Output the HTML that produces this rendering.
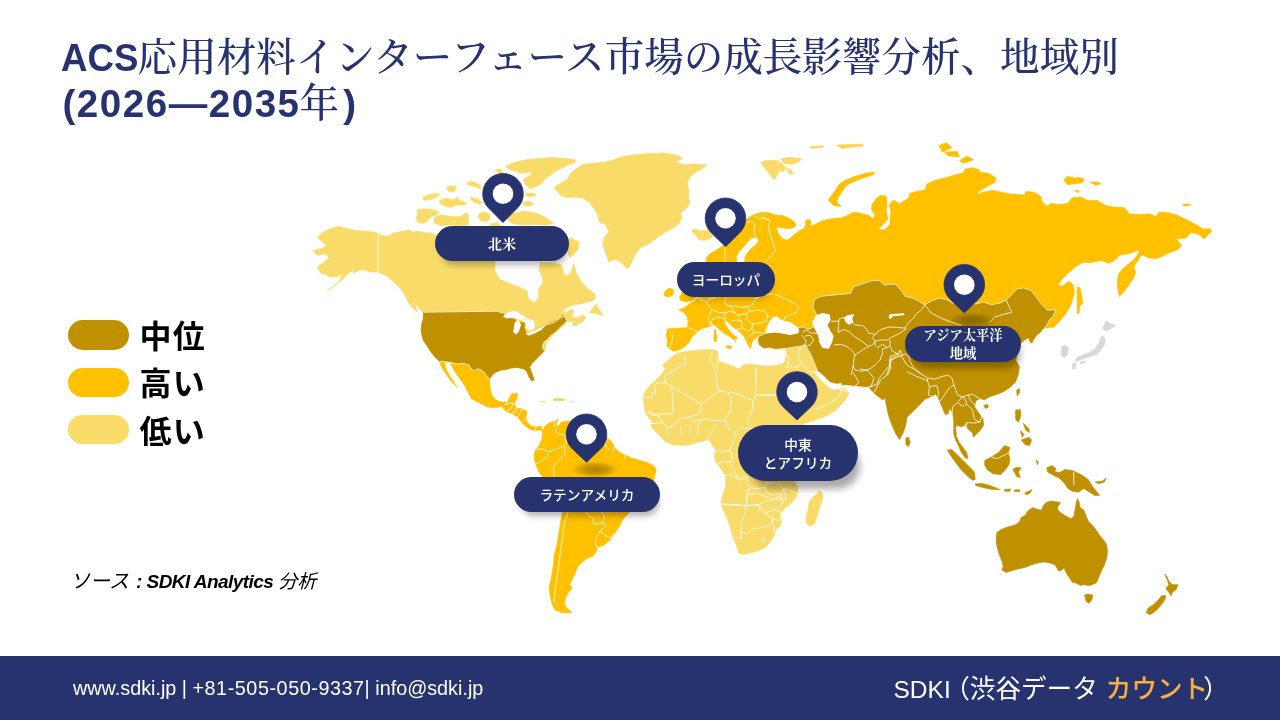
<!DOCTYPE html>
<html lang="ja"><head><meta charset="utf-8"><title>ACS応用材料インターフェース市場</title>
<style>
html,body{margin:0;padding:0;}
body{width:1280px;height:720px;overflow:hidden;background:#fff;position:relative;font-family:"Liberation Sans","Noto Sans CJK JP",sans-serif;}
.abs{position:absolute;white-space:nowrap;}
.title{left:62.5px;color:#27336F;font-family:"Liberation Sans","Noto Serif CJK JP","Noto Serif CJK SC",serif;font-size:39.55px;line-height:46px;font-weight:400;}
.title b{font-family:"Liberation Sans",sans-serif;font-weight:700;font-size:38.6px;display:inline-block;}
.title .cj{font-family:"Noto Serif CJK JP","Noto Serif CJK SC",serif;font-weight:500;}
.leg{left:68px;width:61px;height:30px;border-radius:15px;}
.legt{left:139.5px;font-family:"Noto Sans CJK JP",sans-serif;font-weight:700;font-size:32px;line-height:36px;color:#000;letter-spacing:1.2px;}
.src{left:70px;top:569px;font-size:20px;line-height:24px;font-style:italic;color:#000;font-family:"Liberation Sans","Noto Sans CJK JP",sans-serif;}
.src b{font-size:19px;letter-spacing:-0.55px;}
.footer{left:0;top:656px;width:1280px;height:64px;background:#27336F;}
.f1{left:73px;top:676px;color:#fff;font-size:19.8px;line-height:24px;}
.f2{left:893.5px;top:672px;color:#fff;font-size:24.5px;line-height:30px;}
.f2 .fj{font-size:25.6px;font-family:"Noto Sans CJK JP",sans-serif;}.f2 i{font-style:normal;}.f2 b{color:#F5B041;font-weight:500;}
.lab{background:#27336F;color:#fff;text-align:center;font-size:13px;line-height:17.5px;display:flex;align-items:center;justify-content:center;flex-direction:column;}
.lab.serif{font-family:"Noto Serif CJK JP","Noto Serif CJK SC",serif;font-weight:700;font-size:13.3px;}
.lab.sans{font-family:"Noto Sans CJK JP",sans-serif;font-weight:500;font-size:13.7px;}
</style></head><body>
<div class="abs title" id="t1" style="top:30.5px"><b id="acs" style="transform:scaleX(.95);transform-origin:0 50%;margin-right:-5.2px;margin-left:-1.2px">ACS</b><span class="cj" id="cj1">応用材料インターフェース市場の成長影響分析、地域別</span></div>
<div class="abs title" id="t2" style="top:76.5px"><b id="yr" style="letter-spacing:1.5px">(2026—2035</b><span class="cj" id="cj2" style="margin-left:-1px">年</span><b style="margin-left:4px">)</b></div>
<svg class="abs" style="left:0;top:0" width="1280" height="720" viewBox="0 0 1280 720">
<path d="M323.4,232 329.7,228.9 338.3,226.2 346.9,228.4 356.2,230.5 367.2,231.2 376.9,232.5 381.2,235.2 387.5,236.2 393.8,233.1 401.6,231.2 409.4,230 412.5,232 418.8,231.2 425,232.8 431.2,233.1 435.9,235.2 470,236 540,238 540.2,262.7 553.4,262.7 561.2,265 565.2,275.9 570.6,273.6 573.8,263.4 576.9,274.4 581.6,282.2 587.8,288.4 594.8,293.9 595.6,297.8 592.5,300.9 586.2,302.5 580,304.1 573.8,304.8 567.5,307.2 562.8,311.1 564.4,313.4 570.6,309.5 573.8,310.3 572.2,316.6 576.9,318.1 583.1,315 586.2,317.3 583.1,321.2 575.3,325.9 572.2,325.2 573.8,321.2 569.1,322 566.7,321.2 564.4,324.4 558.1,330.6 553.4,333.8 548.8,340 544.1,343.1 542.5,347.8 544.8,352 546.9,339.1 543,342.2 541.4,346.9 543.8,351.6 539.8,355.5 535.9,359.4 532,363.3 529.7,367.2 532,373.4 534.1,379.7 532,381.2 528.9,376.6 526.6,371.1 523.4,368.8 517.2,367.5 510.9,368 506.2,369.5 500,370.3 493.8,373.4 490.6,377.3 489.4,379.7 487.5,376.6 484.4,372.7 481.2,370 477.3,368.8 475,371.1 471.1,368.8 468.8,364.8 462.5,363.3 457.8,364.1 450,362.5 442.2,361.2 439.8,361.7 437.5,359.4 433.6,355.5 429.7,350 426.6,345.3 423.4,340.6 421.9,335.2 421.1,329.7 421.9,323.4 423.4,318 423.4,313.3 420.3,309.4 417.2,306.2 414.8,302.3 417.2,312 412.5,307.8 407.8,301.6 404.7,295.3 401.6,289.8 396.9,285.2 392.2,280.5 387.5,276.6 381.2,273.4 376.9,271.9 373.4,272.2 367.2,271.1 361.7,269.5 357.8,271.1 353.1,273.4 353.9,268.8 348.4,273.4 343,278.9 335.9,285.2 326.6,290.6 333.6,286.7 339.1,281.2 342.2,274.7 337.5,276.6 331.2,277.3 326.6,275 320.3,272.7 317.2,267.2 323.4,262.5 328.9,258.6 326.6,253.9 317.2,255.5 313.3,250.8 321.9,248.4 326.6,245.3 321.1,240.9 317.2,237.5Z" fill="#F8DB69" stroke="#F8DB69" stroke-width="0.6" stroke-linejoin="round"/>
<path d="M589.4,312.7 595.6,304.1 598.8,308.8 603.4,315.8 595.6,313.4Z" fill="#F8DB69" stroke="#F8DB69" stroke-width="0.6" stroke-linejoin="round"/>
<path d="M423.4,312.2 496.9,311.2 503.1,313.3 506.2,317.2 515.6,319.5 514.8,323.4 513.3,332 516.4,333.6 518.8,326.6 520.3,321.9 525,323.4 524.2,328.1 526.6,333.6 532.8,332 537.5,328.9 545.3,325 553.1,321.9 559.4,318.8 562.5,315.6 565.6,317.2 566.4,321.9 562.5,324.2 557.8,328.9 553.9,332.8 550,335.2 546.9,339.1 543,342.2 541.4,346.9 543.8,351.6 539.8,355.5 535.9,359.4 532,363.3 529.7,367.2 532,373.4 534.1,379.7 532,381.2 528.9,376.6 526.6,371.1 523.4,368.8 517.2,367.5 510.9,368 506.2,369.5 500,370.3 493.8,373.4 490.6,377.3 489.4,379.7 487.5,376.6 484.4,372.7 481.2,370 477.3,368.8 475,371.1 471.1,368.8 468.8,364.8 462.5,363.3 457.8,364.1 450,362.5 442.2,361.2 439.8,361.7 437.5,359.4 433.6,355.5 429.7,350 426.6,345.3 423.4,340.6 421.9,335.2 421.1,329.7 421.9,323.4 423.4,318Z" fill="#BF9000" stroke="#BF9000" stroke-width="0.6" stroke-linejoin="round"/>
<path d="M503.4,316.6 508.1,312.2 515.9,311.1 520.9,314.7 526.9,318.1 520.6,319.7 512.8,317.3 506.6,318.1Z" fill="#fff" stroke="#fff" stroke-width="0.6" stroke-linejoin="round"/>
<path d="M513.6,332.2 514.7,323.6 518.3,320.5 520.9,324.4 518.3,332.2 515.6,334.1Z" fill="#fff" stroke="#fff" stroke-width="0.6" stroke-linejoin="round"/>
<path d="M521.9,320.5 528.4,318.9 533.9,321.2 534.7,327.5 530,330.6 525.6,327.5 526.4,323.1Z" fill="#fff" stroke="#fff" stroke-width="0.6" stroke-linejoin="round"/>
<path d="M526.1,333.8 533.1,331.4 539.4,328.3 545.6,325.2 541.2,329.8 533.1,333.8 528.4,335.3Z" fill="#fff" stroke="#fff" stroke-width="0.6" stroke-linejoin="round"/>
<path d="M495.6,258.8 495.6,271.2 500.3,279.1 509.7,283 520.6,286.9 527.7,290.8 529.2,298.6 533.9,302.2 537.8,298.6 538.1,288.4 542.5,283 541.7,276.7 538.6,270.5 540.2,258.8Z" fill="#fff" stroke="#fff" stroke-width="0.6" stroke-linejoin="round"/>
<path d="M450,362.5 457.8,364.1 462.5,363.3 468.8,364.8 471.1,368.8 475,371.1 477.3,368.8 481.2,370 484.4,372.7 487.5,376.6 489.4,379.7 489.8,384.4 490.6,390.6 492.2,396.1 496.1,400 501.6,402.3 507.8,401.6 509.4,397.7 511.7,393.8 517.2,393.4 516.4,397.7 514.1,402.3 513.3,406.2 517.5,393.8 516.7,398.8 514.4,403.4 515.9,408.1 522.2,408.9 526.9,411.2 526.1,417.5 526.9,422.2 531.6,426.1 536.2,426.9 540.9,426.1 542.5,430 542.5,432.3 540.2,430 534.7,430.8 530,429.2 525.3,426.1 521.4,422.2 517.5,416.7 511.2,413.6 505,410.5 501.9,406.6 494.1,407.8 486.2,406.6 480,402.7 492.2,407.8 484.4,404.7 476.6,401.6 471.1,398.4 468.8,393.8 465.6,387.5 461.7,381.2 457,375 453.1,368.8Z" fill="#FFC000" stroke="#FFC000" stroke-width="0.6" stroke-linejoin="round"/>
<path d="M440,361.2 444.8,362.5 445.5,367.5 447.5,372 450,376.2 453.1,380.8 455.6,385 457.8,387.8 455,385.2 451.2,381 447.5,376 444.4,371.5 441.2,366.5Z" fill="#FFC000" stroke="#FFC000" stroke-width="0.6" stroke-linejoin="round"/>
<path d="M553.1,399.1 558.1,398.4 564.7,399.4 564.1,400.8 558.1,400.3 553.8,400.5Z" fill="#FFCC33" stroke="#FFCC33" stroke-width="0.6" stroke-linejoin="round"/>
<path d="M540.2,401.1 545.6,401.1 545.6,401.9 540.2,401.9Z" fill="#FFE08A" stroke="#FFE08A" stroke-width="0.6" stroke-linejoin="round"/>
<path d="M570.3,401.1 574.1,401.1 574.1,401.9 570.3,401.9Z" fill="#FFE08A" stroke="#FFE08A" stroke-width="0.6" stroke-linejoin="round"/>
<path d="M542.5,432.3 544.1,426.9 548.8,423 555,420.9 558.1,419.1 556.6,423.8 558.1,426.9 561.2,422.2 567.5,420.9 576.9,423 589.4,426.9 598.8,432.3 606.6,437.8 611.2,440.9 614.4,447.2 619.1,451.9 625.3,455 631.6,458.1 637.8,459.7 645.6,462 651.9,464.4 655.8,468.3 656.2,472.2 654.2,476.1 654.4,493.8 645,501.3 630,511.6 622.5,520 618.8,527.5 614.1,534.1 609.4,540.6 603.8,545.3 597.2,547.2 596.3,551.9 592.5,556.6 586.9,558.4 582.2,562.2 577.5,566.9 575.6,572.5 572.8,578.1 570,583.8 571.9,588.4 568.1,593.1 565.3,598.8 564.4,604.4 568.1,609.1 571.9,612.8 562.5,612.8 555,610 552.2,604.4 550.3,596.9 549,587.5 551.3,578.1 553.1,566.9 554.1,555.6 556.9,544.4 558.8,533.1 560.6,521.9 562.5,511.6 542.5,476.9 540.2,473.8 537,467.5 534.7,461.2 533.9,455 535.5,449.5 539.4,445.6 541.7,439.4Z" fill="#FFC000" stroke="#FFC000" stroke-width="0.6" stroke-linejoin="round"/>
<path d="M554.1,187.5 560.3,183.6 568.1,178.9 569.7,174.2 575.9,168.8 582.2,164.8 591.6,163.3 602.5,162.5 610.3,160.9 621.2,157 633.8,154.7 649.4,153.4 665,153.1 675.9,154.7 683,158.6 675.9,161.7 683.8,164.8 693.1,164.1 707.2,164.8 702.5,168.8 694.7,172.7 690,177.3 686.9,183.6 689.2,190.6 688.4,196.9 690,203.1 685.3,209.4 680.6,212.5 682.2,218.8 677.5,225 672.8,228.1 665,232.8 657.2,237.5 649.4,243.8 641.6,246.9 636.9,251.6 633.8,257.8 631.4,263.3 629.1,267.2 627.5,269.1 625.2,266.4 621.2,262.5 615,259.4 608.8,262 605.6,253.1 602.5,243.8 604.1,237.5 608.8,231.2 605.6,225 599.4,221.9 597.8,215.6 594.7,209.4 590,203.1 583.8,198.4 575.9,196.9 566.6,197.7 560.3,195.3 557.2,191.4Z" fill="#F8DB69" stroke="#F8DB69" stroke-width="0.6" stroke-linejoin="round"/>
<path d="M691.9,230 696.2,228.8 700,231.2 705,230 710,231.2 713.1,235 711.2,238.1 706.2,240 701.2,240.6 697.5,238.1 695.6,234.4 692.5,232.5Z" fill="#F8DB69" stroke="#F8DB69" stroke-width="0.6" stroke-linejoin="round"/>
<path d="M505.2,166.4 513.8,162.5 526.2,159.7 541.9,158.1 554.4,157.5 566.9,158.6 576.2,160.2 573.9,163.3 566.9,165.6 560.6,168.8 554.4,171.9 549.7,175.8 545,178.9 541.9,183.6 535.6,186.7 529.4,189.1 527.8,186.7 524.7,183.6 523.1,179.7 527.8,176.6 532.5,173.4 529.4,171.9 521.6,173.4 515.3,171.1 509.1,169.5Z" fill="#F8DB69" stroke="#F8DB69" stroke-width="0.6" stroke-linejoin="round"/>
<path d="M416.9,210 423.8,208.8 431.9,209.4 439.4,211.9 436.2,215 430,217.5 427.5,221.2 422.5,223.8 417.5,221.9 416.2,217.5 418.1,213.8Z" fill="#F8DB69" stroke="#F8DB69" stroke-width="0.6" stroke-linejoin="round"/>
<path d="M434.4,217.5 441.2,215 450,216.2 460,216.9 465.6,213.1 468.8,214.4 468.1,220 468.8,225 460,225.6 450,225 441.2,225.6 435,223.8 433.8,220.6Z" fill="#F8DB69" stroke="#F8DB69" stroke-width="0.6" stroke-linejoin="round"/>
<path d="M423.1,196.9 430,194.4 438.1,193.1 439.4,195.6 432.5,198.8 426.2,200.6 423.1,199.4Z" fill="#F8DB69" stroke="#F8DB69" stroke-width="0.6" stroke-linejoin="round"/>
<path d="M439.4,200.6 446.2,198.1 453.8,200 456.9,196.9 460,200.6 466.2,202.5 465,205 457.5,205 450,207.5 445,206.2 440,203.8Z" fill="#F8DB69" stroke="#F8DB69" stroke-width="0.6" stroke-linejoin="round"/>
<path d="M446.2,187.5 452.5,185.6 456.9,187.5 453.8,191.9 448.8,191.9 447.5,189.4Z" fill="#F8DB69" stroke="#F8DB69" stroke-width="0.6" stroke-linejoin="round"/>
<path d="M466.9,182.5 472.5,181.2 480,185 481.9,188.8 477.5,188.1 471.2,185.6 467.5,185Z" fill="#F8DB69" stroke="#F8DB69" stroke-width="0.6" stroke-linejoin="round"/>
<path d="M470,196.9 477.5,198.8 482.5,202.5 480,204.4 475,202.5 471.2,200Z" fill="#F8DB69" stroke="#F8DB69" stroke-width="0.6" stroke-linejoin="round"/>
<path d="M479.4,213.1 485,211.9 490,215 489.4,220 484.4,221.9 480,220 478.1,216.2Z" fill="#F8DB69" stroke="#F8DB69" stroke-width="0.6" stroke-linejoin="round"/>
<path d="M508.8,214.4 516.2,212.5 525,211.2 533.8,212.5 541.2,215 547.5,218.8 553.8,223.8 547.5,225 535,224.4 522.5,225 512.5,223.8 507.5,220Z" fill="#F8DB69" stroke="#F8DB69" stroke-width="0.6" stroke-linejoin="round"/>
<path d="M522.5,202.5 530,201.2 533.1,203.8 530,206.2 523.8,205.6Z" fill="#F8DB69" stroke="#F8DB69" stroke-width="0.6" stroke-linejoin="round"/>
<path d="M526.2,193.1 533.8,193.1 536.2,195.6 530,196.9 525.6,195.6Z" fill="#F8DB69" stroke="#F8DB69" stroke-width="0.6" stroke-linejoin="round"/>
<path d="M495,170 500,168.8 503.1,172.5 500,174.4Z" fill="#F8DB69" stroke="#F8DB69" stroke-width="0.6" stroke-linejoin="round"/>
<path d="M490,223.8 497.5,222.8 501.2,226.2 491.2,226.9Z" fill="#F8DB69" stroke="#F8DB69" stroke-width="0.6" stroke-linejoin="round"/>
<path d="M569.2,237.5 579.4,242.2 577.8,250 570,257.8 566.9,250Z" fill="#F8DB69" stroke="#F8DB69" stroke-width="0.6" stroke-linejoin="round"/>
<path d="M760.6,162.5 768.1,160.3 777.5,160.6 783.1,164.4 785.9,168.1 783.1,171.9 780.3,170 777.5,174.7 774.7,179.4 770.9,176.6 768.1,171.9 764.4,168.1Z" fill="#F8DB69" stroke="#F8DB69" stroke-width="0.6" stroke-linejoin="round"/>
<path d="M780.3,158.8 790.6,157.3 801.9,158.8 798.1,162.5 790.6,164.4 784.1,163.4Z" fill="#F8DB69" stroke="#F8DB69" stroke-width="0.6" stroke-linejoin="round"/>
<path d="M786.9,168.1 791.6,170 793.4,174.7 789.7,173.8 786.9,170.9Z" fill="#F8DB69" stroke="#F8DB69" stroke-width="0.6" stroke-linejoin="round"/>
<path d="M706.2,261.9 706.2,257.5 710,253.8 716.2,250 722.5,246.2 735,233.8 745,221.2 748.8,217.5 753.8,214.4 761.2,212.5 768.8,212.5 775,215 782.5,215.6 788.8,218.1 793.8,221.2 796.2,225 793.8,227.5 788.8,228.8 782.5,228.1 776.2,226.9 777.5,231.2 780,236.2 783.8,239.4 787.5,240 791.2,237.5 793.8,235 798.8,231.2 803.8,228.8 806.2,223.8 805,220.6 810,219.4 811.3,222.5 809.4,226.3 815,224.4 822.5,220.6 831.9,218.8 841.3,217.8 850.6,214.1 852.5,212.2 860,213.1 867.5,215 874.1,218.8 875,215 871.3,209.4 872.2,203.8 876.9,198.1 880.6,195.3 886.3,196.3 887.2,203.8 886.3,211.3 888.1,218.8 882.5,225.3 877.8,229.1 884.4,230 890,224.4 890,218.8 890.9,211.3 889.1,204.7 893.8,200 899.4,203.8 908.8,198.1 909.7,193.4 916.3,191.6 925.6,189.7 926.6,184.1 935,180.3 946.3,177.5 955.6,174.7 963.1,172.8 965,169.1 972.5,167.8 980,170 977.5,171.6 988.8,173.4 996.3,178.1 994.4,182.8 986.9,186.6 979.4,191.3 975.6,195 983.1,192.2 992.5,190.3 1001.9,192.2 1011.3,194.1 1024.4,195 1026.3,191.3 1033.8,192.2 1040.3,195.9 1042.2,201.6 1046.9,206.3 1050.6,203.4 1060,204.4 1067.5,203.4 1072.2,197.8 1080.6,196.9 1088.1,200.6 1097.5,200.6 1105,205.3 1114.4,207.2 1123.8,207.2 1129.4,213.8 1138.8,214.7 1150,213.8 1155.6,216.6 1159.4,211.9 1168.8,212.8 1178.1,215.6 1187.5,220.3 1196.9,225 1202.5,228.8 1210,228.8 1211.9,231.6 1208.1,234.4 1204.4,239.1 1198.8,234.4 1191.3,232.5 1185.6,238.1 1176.3,239.1 1181.9,245.6 1178.1,249.4 1168.8,253.1 1161.3,256.9 1155.6,258.8 1148.1,257.8 1142.5,255 1141,255.8 1137.5,261.2 1133.9,266.6 1135.7,272 1133.9,277.5 1130.3,282.9 1126.6,288.3 1123,292.8 1119.4,296.4 1117.6,288.3 1117.3,281 1118.5,273.9 1123,268.4 1128.4,263.9 1133.9,259.4 1137.5,254.9 1138.4,252.2 1139.7,249.4 1133.1,252.2 1127.5,254.1 1120,255 1114.4,260.6 1108.8,263.4 1101.3,260.6 1091.9,262.5 1082.5,262.5 1075,267.2 1067.5,273.8 1061.9,279.4 1058.1,285 1062.2,285.9 1068.8,281.3 1073.4,285 1074.4,292.5 1072.5,300 1069.7,307.5 1065,315 1059.4,321.6 1053.8,327.2 1046.3,328.1 1000,325 900,325 840,340 800,345 765,345 758.8,336.2 756.2,337.5 753.1,340 751.2,345 750.6,348.8 748.8,346.2 746.2,341.2 745,338.1 741.2,333.1 736.2,329.4 731.2,325.6 727.5,321.2 724.4,320.6 725,323.8 728.1,328.8 731.2,332.5 735,336.2 738.1,338.1 734.4,339.4 735.6,341.9 733.8,339.4 728.8,336.2 723.8,333.1 720,330 716.2,326.2 712.5,324.4 710,326.2 706.2,327.5 701.2,328.8 697.5,331.9 692.5,336.2 688.8,342.5 683.8,347.5 678.8,350 673.8,351.2 669.4,348.8 666.9,346.2 667.5,341.2 666.2,335 667.5,328.8 687.5,327.5 688.1,321.2 686.9,316.2 683.8,312.5 678.8,310 684.4,307.5 690,303.8 695,300.6 697.5,297.5Z" fill="#FFC000" stroke="#FFC000" stroke-width="0.6" stroke-linejoin="round"/>
<path d="M663.8,295 665.6,290.6 669.4,288.1 673.1,289.4 673.8,293.8 671.2,296.2 666.9,296.9Z" fill="#FFC000" stroke="#FFC000" stroke-width="0.6" stroke-linejoin="round"/>
<path d="M679.4,296.9 682.5,292.5 688.8,290 695,292.5 696.2,297.5 692.5,300.6 685,301.9 680.6,300.6Z" fill="#FFC000" stroke="#FFC000" stroke-width="0.6" stroke-linejoin="round"/>
<path d="M714,330 715.6,329.4 716.2,333.8 716.9,337.5 716.2,341.2 714.4,341.9 713.8,337.5 714.4,333.8Z" fill="#FFC000" stroke="#FFC000" stroke-width="0.6" stroke-linejoin="round"/>
<path d="M725.6,346.2 730,345.6 731.9,346.9 730.6,348.8 727.5,348.5Z" fill="#FFC000" stroke="#FFC000" stroke-width="0.6" stroke-linejoin="round"/>
<path d="M828.1,200 833.8,192.5 839.4,184.1 845,180.3 854.4,176.6 867.5,172.8 875,172.3 873.1,174.7 861.9,178.4 852.5,182.2 845.9,185.9 842.2,191.6 838.4,197.2 836.6,201.9 841.3,206.6 833.8,205.6Z" fill="#FFC000" stroke="#FFC000" stroke-width="0.6" stroke-linejoin="round"/>
<path d="M938.8,145.6 946.3,142.8 951.9,147.5 942.5,152.2Z" fill="#FFC000" stroke="#FFC000" stroke-width="0.6" stroke-linejoin="round"/>
<path d="M944.4,152.2 957.5,151.3 959.4,156.9 948.1,155.9Z" fill="#FFC000" stroke="#FFC000" stroke-width="0.6" stroke-linejoin="round"/>
<path d="M959.4,160.6 966.9,155.9 973.5,159.7 963.1,163.4Z" fill="#FFC000" stroke="#FFC000" stroke-width="0.6" stroke-linejoin="round"/>
<path d="M810.3,146.8 823.4,145.8 823.4,147.3 810.9,148.3Z" fill="#FFD24D" stroke="#FFD24D" stroke-width="0.6" stroke-linejoin="round"/>
<path d="M836.6,145.1 852.5,144.5 862.8,144.1 862.8,146.2 852.5,147.1 842.2,148.6Z" fill="#FFD24D" stroke="#FFD24D" stroke-width="0.6" stroke-linejoin="round"/>
<path d="M1063.8,180 1067.5,176.3 1075,178.1 1078.8,177.2 1084.4,179.1 1082.5,182.8 1075,183.8 1067.5,184.7Z" fill="#FFC000" stroke="#FFC000" stroke-width="0.6" stroke-linejoin="round"/>
<path d="M1090,181.9 1097.5,181.9 1101.3,183.8 1095.6,185.3Z" fill="#FFC000" stroke="#FFC000" stroke-width="0.6" stroke-linejoin="round"/>
<path d="M1074.1,190.3 1079.7,190.9 1077.8,192.8Z" fill="#FFC000" stroke="#FFC000" stroke-width="0.6" stroke-linejoin="round"/>
<path d="M1181.9,204.8 1187.5,203.8 1191.3,204.9 1185.6,206.3Z" fill="#FFC000" stroke="#FFC000" stroke-width="0.6" stroke-linejoin="round"/>
<path d="M1077.2,286.9 1080,287.8 1081.9,296.3 1082.8,303.8 1080,305.6 1079.1,313.1 1077.2,314.1 1077.2,305.6 1077.2,296.3Z" fill="#FFC000" stroke="#FFC000" stroke-width="0.6" stroke-linejoin="round"/>
<path d="M737.5,261.9 736.9,256.2 740,251.2 745,246.2 748.8,241.2 751.9,238.1 756.9,238.1 758.1,241.2 755,245 750,248.8 746.2,253.8 744.4,258.1 743.8,261.9Z" fill="#fff" stroke="#fff" stroke-width="0.6" stroke-linejoin="round"/>
<path d="M662.5,365 668.75,360 673.75,355 680,352.5 687.5,351.25 697.5,350 707.5,349.4 715,350 717.5,351.25 718,357.5 720,361.9 726.25,363.75 733.75,366.25 740,369.4 742.5,365 750,363.75 757.5,365 766.25,366.25 775,365.6 782.5,363.75 785,361.25 785.6,357.5 786.25,352.5 785,348.75 791.25,347.5 801.25,346.25 805,344.4 807.5,348.75 811.25,355 813.75,361.25 816.25,367.5 817.5,371.25 817.5,376 821,380 826,385 831,388.75 835,389.4 840,387.5 845,389 849.4,393.5 847,397 842.6,403.3 835.4,410.5 826.4,416 817.3,419.6 808.3,422.3 803,424 800,440 795,482.2 797.8,486.9 797.8,494.4 794,500 789.4,504.7 783.75,509.4 780,515 781.9,520.6 780,526.25 775.3,530 774.4,535.6 770.6,541.25 766,546.9 759.4,550.6 751.9,552.5 744.4,554.4 738.75,553.4 736.9,546.9 734,539.4 731.25,531.9 729.4,524.4 726.6,516.9 722.8,509.4 721,501.9 722.8,494.4 725.6,486.9 725.6,477.5 721.9,470 716.25,462.5 714.4,456.9 715.3,449.4 712,444.5 708.75,440 699.4,441.9 690,444.7 682.5,445.6 673,444.7 665.6,441.9 660,436.25 654.4,430.6 650.6,426 652.5,422.2 648.75,417.5 645,411.9 644,404.4 643,396.9 646,390.3 650.6,384.7 656.25,380 661,374.4 665.6,368.75Z" fill="#F8DB69" stroke="#F8DB69" stroke-width="0.6" stroke-linejoin="round"/>
<path d="M819.4,490.6 822.2,493.4 823.1,498.1 820.3,505.6 817.5,515 814.7,523.4 810,526.3 806.3,523.4 805.9,516.9 808.1,509.4 809.1,501.9 813.8,496.3 817.5,493.4Z" fill="#F8DB69" stroke="#F8DB69" stroke-width="0.6" stroke-linejoin="round"/>
<path d="M758.75,336.25 766.25,333 775,331.9 782.5,333 790,334.4 797.5,333 798.75,331.25 797.5,327.5 802.5,326.9 808.75,329.4 813,327 813,322 816.9,315 813,307.5 814,300 820.6,296.25 830,295.3 839.4,294.4 850.6,293.4 853.4,286.9 861.9,284 873,280.3 878.75,280.3 884.4,285 895.6,284 901.25,290.6 905,296.25 912.5,298 920,301.9 924.7,304.7 931.25,301 938.75,298 948,300 951.9,302.8 965,304 976.25,303.75 983.75,301.9 991.25,304.7 1000.6,302.8 1006.25,300 1013.75,292.5 1017.5,288.75 1023.75,287.8 1031.25,290.6 1036.9,298 1042.5,305.6 1048,310.3 1055.6,309.4 1053.75,315 1049,320.6 1046.25,326.25 1043.4,329 1040.6,332.8 1036.9,335.6 1034,340.3 1032.2,344 1029.4,342.2 1028.4,338.4 1023.75,341.25 1021,344 1018,352 1016.6,361.25 1019.4,366.9 1018.4,374.4 1015.6,381.9 1010,387.5 1002.5,392.2 995,395 989.4,396.9 984.7,399.7 980,398.75 976.25,400.6 974.4,406.25 978,411.9 982.8,418.4 983.75,425 980,430.6 973.4,437.2 972.5,433.4 967.8,428.75 965,425 961.25,426.9 956.6,425 955.6,428.75 956.6,436.25 959.4,442.8 963,447.5 966.9,453 967.8,458.75 965,457.8 961.25,452.2 958.4,445.6 955.6,440 953.75,434.4 953.75,421.25 952.8,413.75 950,408 948,413.75 945.3,414.7 942.5,408 939.7,401.6 937.8,396.9 935,394 932.2,396.5 925.6,398.75 920,404.4 912.5,411.9 906.9,417.5 905.9,425 903,433.4 899.4,439.6 895.6,433.4 891.9,425 888.5,415.6 886.25,405 885,397.5 883,400 880,398 876.25,395 872.5,391.25 868.75,387.5 860,386.9 855,386.25 847.5,385.6 840,385 830,382.5 822.5,375 817.5,371.25 816.25,367.5 813.75,361.25 811.25,355 807.5,348.75 805,344.4 801.25,346.25 791.25,347.5 785,348.75 782.5,348.75 775,349.4 770,348 763.75,348.75 758.75,345 757.5,340Z" fill="#BF9000" stroke="#BF9000" stroke-width="0.6" stroke-linejoin="round"/>
<path d="M765,332.5 767.5,326.2 770,321.2 773.8,316.9 777.5,316.9 780,319.4 783.8,321.2 788.8,321.9 793.8,324.4 797.5,327.5 798.8,331.2 797.5,333.1 790,334.4 782.5,333.1 775,331.9 766.2,333.1Z" fill="#fff" stroke="#fff" stroke-width="0.6" stroke-linejoin="round"/>
<path d="M813,321 816.25,315.6 822.5,313.3 829.5,314.8 830.3,320.3 827.2,325 830.3,331.25 833.4,336 831.9,342 828.75,348.4 822.5,347.7 819.4,342 818.6,336 815.5,329.7 813,325Z" fill="#fff" stroke="#fff" stroke-width="0.6" stroke-linejoin="round"/>
<path d="M844.4,318.1 847.5,315.6 853.8,314.4 851.9,318.8 853.1,322.5 848.8,324.4 845.6,321.9Z" fill="#fff" stroke="#fff" stroke-width="0.6" stroke-linejoin="round"/>
<path d="M888.8,316.5 890.2,314.5 903.8,313.6 903.8,314.9 892.8,315.9 890.2,319Z" fill="#fff" stroke="#fff" stroke-width="0.6" stroke-linejoin="round"/>
<path d="M815,371.9 819.4,372.5 825,378.75 830,383.75 835,385 841.25,383 840,387.5 835,389.4 831.25,388.75 826.25,385 821.25,380 817.5,376.25Z" fill="#fff" stroke="#fff" stroke-width="0.6" stroke-linejoin="round"/>
<path d="M983.8,405.3 987.5,404.4 988.4,407.2 985.3,408.5Z" fill="#BF9000" stroke="#BF9000" stroke-width="0.6" stroke-linejoin="round"/>
<path d="M1016.6,390.3 1019.4,388.4 1019.4,393.1 1017.1,395.9Z" fill="#BF9000" stroke="#BF9000" stroke-width="0.6" stroke-linejoin="round"/>
<path d="M905.9,438.1 908.4,437.2 910.3,441.9 908.4,446.6 905.9,444.7Z" fill="#BF9000" stroke="#BF9000" stroke-width="0.6" stroke-linejoin="round"/>
<path d="M947.2,450.3 951.9,449.4 957.5,455 963.1,460.6 968.8,466.3 974.4,471.9 975.3,479.4 972.5,480.3 966.9,475.6 961.3,470 955.6,462.5 950.9,455.9Z" fill="#BF9000" stroke="#BF9000" stroke-width="0.6" stroke-linejoin="round"/>
<path d="M984.7,460.6 991.3,456.9 998.8,452.2 1004.4,445.6 1010,447.5 1008.1,453.1 1010,458.8 1009.1,464.4 1005.3,470 1000.6,474.7 993.1,473.8 987.5,470 984.7,465.3Z" fill="#BF9000" stroke="#BF9000" stroke-width="0.6" stroke-linejoin="round"/>
<path d="M1012.8,469.1 1017.5,467.2 1021.3,468.1 1018.4,471.9 1020.3,477.5 1016.6,476.6 1014.7,472.8Z" fill="#BF9000" stroke="#BF9000" stroke-width="0.6" stroke-linejoin="round"/>
<path d="M1015.6,410 1020.3,409.6 1020.9,415.6 1018.4,422.2 1015.6,419.4Z" fill="#BF9000" stroke="#BF9000" stroke-width="0.6" stroke-linejoin="round"/>
<path d="M1023.1,423.1 1028.8,428.8 1029.7,432.5 1025.9,430.6Z" fill="#BF9000" stroke="#BF9000" stroke-width="0.6" stroke-linejoin="round"/>
<path d="M1021.3,440 1028.8,437.2 1031.6,440 1029.7,445.6 1025,444.7Z" fill="#BF9000" stroke="#BF9000" stroke-width="0.6" stroke-linejoin="round"/>
<path d="M1020.3,430.6 1024.1,434.4 1022.2,437.2Z" fill="#BF9000" stroke="#BF9000" stroke-width="0.6" stroke-linejoin="round"/>
<path d="M1036.3,459.7 1038.5,462.5 1037.2,464.8Z" fill="#BF9000" stroke="#BF9000" stroke-width="0.6" stroke-linejoin="round"/>
<path d="M975,483.8 982.5,483.4 990,485.6 997.5,488.4 1000.3,489.8 991.9,489.4 982.5,487.5 975.9,485.6Z" fill="#BF9000" stroke="#BF9000" stroke-width="0.6" stroke-linejoin="round"/>
<path d="M1004.1,489.4 1010.6,489 1009.7,491.3 1005,491.3Z" fill="#BF9000" stroke="#BF9000" stroke-width="0.6" stroke-linejoin="round"/>
<path d="M1014.4,489.8 1020,489.8 1019.6,491.6 1014.8,491.6Z" fill="#BF9000" stroke="#BF9000" stroke-width="0.6" stroke-linejoin="round"/>
<path d="M1024.7,493.1 1032.2,489.4 1030.3,492.8 1026.6,495Z" fill="#BF9000" stroke="#BF9000" stroke-width="0.6" stroke-linejoin="round"/>
<path d="M1046.6,467.8 1051.9,465.6 1056,468.4 1054.7,471.6 1059.4,472.5 1065,469.5 1072.5,470.6 1080.9,474.4 1088.4,479.6 1092.2,486 1099.7,495.4 1095,495.6 1089.4,492.2 1083.8,488.4 1078.5,492.2 1072.1,491.3 1067.8,488.4 1064.1,482.8 1059,478.1 1053.4,475.3 1047.8,472.1Z" fill="#BF9000" stroke="#BF9000" stroke-width="0.6" stroke-linejoin="round"/>
<path d="M1095,481.9 1102.5,480.9 1106.3,478.1 1104.4,481.9 1098.8,483.8Z" fill="#BF9000" stroke="#BF9000" stroke-width="0.6" stroke-linejoin="round"/>
<path d="M996.9,532.5 1001.2,529.4 1007.5,526.9 1015,525 1019.4,521.9 1021.2,517.5 1025.6,515 1027.5,511.2 1032.5,507.5 1037.5,509.4 1041.9,510 1043.1,505.6 1046.2,502.5 1051.2,501 1057.5,501.9 1060.6,502.5 1058.1,506.2 1057.5,509.4 1061.2,513.1 1066.2,516.2 1071.2,518.8 1073.8,516.2 1075,510 1076.2,502.5 1077.5,498.5 1079.4,502.5 1080,507.5 1083.8,510 1086.2,516.2 1088.8,521.9 1092.5,525.6 1096.2,530 1099.4,535 1103.1,539.4 1106.2,543.8 1107.5,550 1106.9,557.5 1104.4,565 1101.2,571.2 1098.8,577.5 1096.5,582.5 1096.6,582.8 1090,585.6 1083.4,584.7 1080.6,585.6 1075,582.8 1072.5,582.5 1070,578.8 1067.5,575 1065,570.6 1064.4,567.5 1061.9,570 1058.8,571.2 1056.9,568.1 1055,565 1050,563.1 1043.8,561.9 1037.5,563.1 1031.2,565 1025,567.5 1018.8,568.8 1012.5,570.6 1006.2,572.5 1001.9,570 1003.1,566.2 1001.9,561.2 999.4,555 997.5,548.8 996.2,542.5 996.2,537.5Z" fill="#BF9000" stroke="#BF9000" stroke-width="0.6" stroke-linejoin="round"/>
<path d="M1084.4,595 1088.1,594.1 1092.8,595 1091.9,599.7 1089.1,603.4 1086.3,601.6Z" fill="#BF9000" stroke="#BF9000" stroke-width="0.6" stroke-linejoin="round"/>
<path d="M1164.6,574 1166.9,576.3 1168.8,580.9 1172.5,584.7 1178.1,584.7 1176.3,589.4 1172.5,592.2 1171,595.9 1168.8,592.2 1165.9,588.4 1168.8,584.7 1167.3,580Z" fill="#BF9000" stroke="#BF9000" stroke-width="0.6" stroke-linejoin="round"/>
<path d="M1165,595 1165.9,597.8 1163.1,602.5 1159.4,607.2 1154.7,611.9 1150,614.7 1146.3,612.8 1148.1,608.1 1153.8,604.4 1158.4,599.7 1161.3,595.9Z" fill="#BF9000" stroke="#BF9000" stroke-width="0.6" stroke-linejoin="round"/>
<path d="M1102.5,328.1 1106.3,320.6 1110,323.4 1115.6,325.3 1111.9,328.1 1108.1,330 1104.4,330.9Z" fill="#D8D8D8" stroke="#D8D8D8" stroke-width="0.6" stroke-linejoin="round"/>
<path d="M1102.5,335.6 1105.3,339.4 1104.4,345 1100.6,350.6 1096.9,354.4 1091.3,356.3 1085.6,358.1 1080,360 1075.3,361.9 1076.3,358.1 1081.9,355.3 1089.4,352.5 1095,348.8 1098.8,343.1 1100.6,337.5Z" fill="#D8D8D8" stroke="#D8D8D8" stroke-width="0.6" stroke-linejoin="round"/>
<path d="M1072.5,362.8 1076.3,363.8 1075.3,368.4 1072.5,369.4Z" fill="#D8D8D8" stroke="#D8D8D8" stroke-width="0.6" stroke-linejoin="round"/>
<path d="M1080,361.9 1085.6,360.9 1084.7,362.8 1080.9,363.8Z" fill="#D8D8D8" stroke="#D8D8D8" stroke-width="0.6" stroke-linejoin="round"/>
<path d="M1061.3,346.9 1065,345 1068.4,347.8 1067.8,354.4 1064.1,357.8 1061.3,355.3Z" fill="#D8D8D8" stroke="#D8D8D8" stroke-width="0.6" stroke-linejoin="round"/>
<path d="M685,355.6 685.6,363.8 677.5,368.1 666.2,375 664.4,377.5" fill="none" stroke="#fff" stroke-opacity="0.8" stroke-width="1" stroke-linejoin="round"/>
<path d="M664.4,377.5 665,382.5 656.2,383.1 655,392.5 652.5,393.1 651.9,396.9 643.8,397.2" fill="none" stroke="#fff" stroke-opacity="0.8" stroke-width="1" stroke-linejoin="round"/>
<path d="M665,382.5 670.6,385.6 671.9,388.8 673.1,411.2 671.9,413.5 655,414.4 647.5,411.2" fill="none" stroke="#fff" stroke-opacity="0.8" stroke-width="1" stroke-linejoin="round"/>
<path d="M670.6,385.6 683.8,393.8 698.8,402.5 701.2,403.8" fill="none" stroke="#fff" stroke-opacity="0.8" stroke-width="1" stroke-linejoin="round"/>
<path d="M701.2,403.8 710,397.5 720,391.2 722.5,390.6" fill="none" stroke="#fff" stroke-opacity="0.8" stroke-width="1" stroke-linejoin="round"/>
<path d="M712.5,351.9 709.4,360 715,367.5 716.2,375 716.9,386.2 720,391.2" fill="none" stroke="#fff" stroke-opacity="0.8" stroke-width="1" stroke-linejoin="round"/>
<path d="M715,367.5 718.1,363.8 717.5,357.5" fill="none" stroke="#fff" stroke-opacity="0.8" stroke-width="1" stroke-linejoin="round"/>
<path d="M722.5,390.6 728.8,393.1 731.2,391.9 740,395 752.5,400.6 755,398.8" fill="none" stroke="#fff" stroke-opacity="0.8" stroke-width="1" stroke-linejoin="round"/>
<path d="M756.2,367.5 755.6,395 755,398.8" fill="none" stroke="#fff" stroke-opacity="0.8" stroke-width="1" stroke-linejoin="round"/>
<path d="M755.6,395 776.2,395" fill="none" stroke="#fff" stroke-opacity="0.8" stroke-width="1" stroke-linejoin="round"/>
<path d="M728.8,393.1 731.2,401.2 730.6,410 726.2,417.5 725,420.6" fill="none" stroke="#fff" stroke-opacity="0.8" stroke-width="1" stroke-linejoin="round"/>
<path d="M752.5,400.6 753.1,407.5 750,415 747.5,420 750,425" fill="none" stroke="#fff" stroke-opacity="0.8" stroke-width="1" stroke-linejoin="round"/>
<path d="M701.2,403.8 701.2,410 697.5,414.4 688.8,416.9 681.2,418.1 676.2,421.9 673.8,426.2" fill="none" stroke="#fff" stroke-opacity="0.8" stroke-width="1" stroke-linejoin="round"/>
<path d="M688.8,416.9 692.5,421.2 700,420 706.2,418.8 715,420.6 725,420.6 727.5,425 730,431.2" fill="none" stroke="#fff" stroke-opacity="0.8" stroke-width="1" stroke-linejoin="round"/>
<path d="M700,420 698.1,426.2 697.5,435" fill="none" stroke="#fff" stroke-opacity="0.8" stroke-width="1" stroke-linejoin="round"/>
<path d="M666.9,427.5 666.9,435" fill="none" stroke="#fff" stroke-opacity="0.8" stroke-width="1" stroke-linejoin="round"/>
<path d="M681.2,427.5 681.2,435" fill="none" stroke="#fff" stroke-opacity="0.8" stroke-width="1" stroke-linejoin="round"/>
<path d="M690,426.9 690.6,435" fill="none" stroke="#fff" stroke-opacity="0.8" stroke-width="1" stroke-linejoin="round"/>
<path d="M673.8,426.2 666.9,427.5 665,425 663.1,422.5 650,423.8" fill="none" stroke="#fff" stroke-opacity="0.8" stroke-width="1" stroke-linejoin="round"/>
<path d="M647.5,411.2 652.5,415 658.8,416.2 663.1,422.5" fill="none" stroke="#fff" stroke-opacity="0.8" stroke-width="1" stroke-linejoin="round"/>
<path d="M746.9,476.2 747.5,483.8 750,487.5 755,488.8 765,487.5 766.2,492.5" fill="none" stroke="#fff" stroke-opacity="0.8" stroke-width="1" stroke-linejoin="round"/>
<path d="M721.2,503.8 733.8,504.4 746.2,505.6 757.5,505 760,510" fill="none" stroke="#fff" stroke-opacity="0.8" stroke-width="1" stroke-linejoin="round"/>
<path d="M746.2,505.6 746.9,495 748.1,490 750,487.5" fill="none" stroke="#fff" stroke-opacity="0.8" stroke-width="1" stroke-linejoin="round"/>
<path d="M723.1,475 730,474.4 735,477.5 738.8,480 746.9,476.2" fill="none" stroke="#fff" stroke-opacity="0.8" stroke-width="1" stroke-linejoin="round"/>
<path d="M715,451.2 722.5,451.9 730,450" fill="none" stroke="#fff" stroke-opacity="0.8" stroke-width="1" stroke-linejoin="round"/>
<path d="M730,450 733.8,440 735,432.5 740,427.5" fill="none" stroke="#fff" stroke-opacity="0.8" stroke-width="1" stroke-linejoin="round"/>
<path d="M717.5,463.8 723.8,461.2 730,462.5 732.5,467.5 735,472.5 738.8,480" fill="none" stroke="#fff" stroke-opacity="0.8" stroke-width="1" stroke-linejoin="round"/>
<path d="M730,450 732.5,457.5 730,462.5" fill="none" stroke="#fff" stroke-opacity="0.8" stroke-width="1" stroke-linejoin="round"/>
<path d="M766.2,483.8 773.8,483.1 780,484.4 783.8,490 786.2,498.8" fill="none" stroke="#fff" stroke-opacity="0.8" stroke-width="1" stroke-linejoin="round"/>
<path d="M766.2,492.5 772.5,495 778.8,493.8 781.2,500" fill="none" stroke="#fff" stroke-opacity="0.8" stroke-width="1" stroke-linejoin="round"/>
<path d="M757.5,505 766.2,501.2 775,498.8 781.2,500 786.2,498.8" fill="none" stroke="#fff" stroke-opacity="0.8" stroke-width="1" stroke-linejoin="round"/>
<path d="M765,487.5 766.2,483.8 765,480" fill="none" stroke="#fff" stroke-opacity="0.8" stroke-width="1" stroke-linejoin="round"/>
<path d="M705,441.9 708.8,436.2 712.5,430 716.2,425" fill="none" stroke="#fff" stroke-opacity="0.8" stroke-width="1" stroke-linejoin="round"/>
<path d="M740,427.5 750,428.8 760,427.5" fill="none" stroke="#fff" stroke-opacity="0.8" stroke-width="1" stroke-linejoin="round"/>
<path d="M722.8,504.7 746.3,505.6 744.4,515 741.6,522.5 740.6,530 741.6,537.5 736.9,538.4" fill="none" stroke="#fff" stroke-opacity="0.8" stroke-width="1" stroke-linejoin="round"/>
<path d="M746.3,505.6 759.4,504.7 765,513.1 772.5,518.8 770.6,524.4 761.3,528.1 753.8,528.1 748.1,533.8 741.6,531.9" fill="none" stroke="#fff" stroke-opacity="0.8" stroke-width="1" stroke-linejoin="round"/>
<path d="M765,513.1 774.4,509.4 781.9,513.1 780,520.6 772.5,518.8" fill="none" stroke="#fff" stroke-opacity="0.8" stroke-width="1" stroke-linejoin="round"/>
<path d="M772.5,518.8 774.4,528.1 772.5,532.8" fill="none" stroke="#fff" stroke-opacity="0.8" stroke-width="1" stroke-linejoin="round"/>
<path d="M746.3,505.6 747.2,494.4 757.5,493.4 765,496.3 772.5,500 780,496.3 783.8,501.9 774.4,509.4" fill="none" stroke="#fff" stroke-opacity="0.8" stroke-width="1" stroke-linejoin="round"/>
<path d="M780,496.3 783.8,488.8 791.3,490.6 797.8,494.4" fill="none" stroke="#fff" stroke-opacity="0.8" stroke-width="1" stroke-linejoin="round"/>
<path d="M761.3,539.4 763.5,537.5 765.4,539.8 763.1,541.6 761.3,539.4" fill="none" stroke="#fff" stroke-opacity="0.8" stroke-width="1" stroke-linejoin="round"/>
<path d="M760,395 776.2,395" fill="none" stroke="#fff" stroke-opacity="0.8" stroke-width="1" stroke-linejoin="round"/>
<path d="M785,350.6 788.8,358.8 786.9,367.5" fill="none" stroke="#fff" stroke-opacity="0.8" stroke-width="1" stroke-linejoin="round"/>
<path d="M801.2,346.2 797.5,355 801.2,362.5 797.5,367.5 791.2,366.2 786.9,367.5" fill="none" stroke="#fff" stroke-opacity="0.8" stroke-width="1" stroke-linejoin="round"/>
<path d="M817.5,371.2 810,372.5 801.2,362.5" fill="none" stroke="#fff" stroke-opacity="0.8" stroke-width="1" stroke-linejoin="round"/>
<path d="M815,410 825,405 835,400 840,395 841.2,388.8" fill="none" stroke="#fff" stroke-opacity="0.8" stroke-width="1" stroke-linejoin="round"/>
<path d="M840,385 837.5,388.8 841.2,388.8 847.5,392.5" fill="none" stroke="#fff" stroke-opacity="0.8" stroke-width="1" stroke-linejoin="round"/>
<path d="M671.9,333.1 672.5,340 670.6,345 669.4,348.1" fill="none" stroke="#fff" stroke-opacity="0.8" stroke-width="1" stroke-linejoin="round"/>
<path d="M688.1,327.5 697.5,331.9" fill="none" stroke="#fff" stroke-opacity="0.8" stroke-width="1" stroke-linejoin="round"/>
<path d="M697.5,297.5 706.2,301.9 708.8,306.2 712.5,310 710,313.8 708.1,318.8 710,324.4 712.5,324.4" fill="none" stroke="#fff" stroke-opacity="0.8" stroke-width="1" stroke-linejoin="round"/>
<path d="M725.6,297.5 725,303.8 730,306.2 735,305.6 740,307.5 747.5,306.9 752.5,305 755,298.8" fill="none" stroke="#fff" stroke-opacity="0.8" stroke-width="1" stroke-linejoin="round"/>
<path d="M712.5,310 718.8,312.5 725,313.1 730,311.2 735,313.1 730,306.2" fill="none" stroke="#fff" stroke-opacity="0.8" stroke-width="1" stroke-linejoin="round"/>
<path d="M710,324.4 712.5,318.8 718.8,316.9 725,318.8 724.4,320.6" fill="none" stroke="#fff" stroke-opacity="0.8" stroke-width="1" stroke-linejoin="round"/>
<path d="M725,313.1 725.6,318.8" fill="none" stroke="#fff" stroke-opacity="0.8" stroke-width="1" stroke-linejoin="round"/>
<path d="M735,313.1 737.5,315 746.2,313.8 750,311.2 747.5,306.9" fill="none" stroke="#fff" stroke-opacity="0.8" stroke-width="1" stroke-linejoin="round"/>
<path d="M750,311.2 758.8,310 765,311.2 767.5,316.2 766.2,321.2 760,323.1 752.5,323.8 747.5,320 746.2,313.8" fill="none" stroke="#fff" stroke-opacity="0.8" stroke-width="1" stroke-linejoin="round"/>
<path d="M752.5,323.8 751.9,328.8 755,332.5 762.5,332.5" fill="none" stroke="#fff" stroke-opacity="0.8" stroke-width="1" stroke-linejoin="round"/>
<path d="M737.5,315 741.2,321.2 742.5,327.5 747.5,331.2 751.9,328.8" fill="none" stroke="#fff" stroke-opacity="0.8" stroke-width="1" stroke-linejoin="round"/>
<path d="M731.2,321.2 736.2,320 741.2,321.2" fill="none" stroke="#fff" stroke-opacity="0.8" stroke-width="1" stroke-linejoin="round"/>
<path d="M736.2,329.4 741.2,328.8 742.5,327.5" fill="none" stroke="#fff" stroke-opacity="0.8" stroke-width="1" stroke-linejoin="round"/>
<path d="M746.2,338.8 750,335 755,332.5" fill="none" stroke="#fff" stroke-opacity="0.8" stroke-width="1" stroke-linejoin="round"/>
<path d="M755,298.8 763.8,295 772.5,293.8 780,296.2 787.5,300 795,303.8 798.8,307.5 796.2,312.5 790,315 785,317.5 782.5,321.2" fill="none" stroke="#fff" stroke-opacity="0.8" stroke-width="1" stroke-linejoin="round"/>
<path d="M767.5,316.2 771.2,316.9" fill="none" stroke="#fff" stroke-opacity="0.8" stroke-width="1" stroke-linejoin="round"/>
<path d="M706.2,301.9 710,298.8 715,297.5" fill="none" stroke="#fff" stroke-opacity="0.8" stroke-width="1" stroke-linejoin="round"/>
<path d="M802.5,332.5 806.2,330 811.2,333.1 817.5,333.1" fill="none" stroke="#fff" stroke-opacity="0.8" stroke-width="1" stroke-linejoin="round"/>
<path d="M805,336.2 810,335 813.8,340" fill="none" stroke="#fff" stroke-opacity="0.8" stroke-width="1" stroke-linejoin="round"/>
<path d="M805.6,346.2 810,345 813.8,340" fill="none" stroke="#fff" stroke-opacity="0.8" stroke-width="1" stroke-linejoin="round"/>
<path d="M725,246.2 725,261.9" fill="none" stroke="#fff" stroke-opacity="0.8" stroke-width="1" stroke-linejoin="round"/>
<path d="M746.2,222.5 752.5,221.2 755,225 753.8,231.2 756.2,236.9" fill="none" stroke="#fff" stroke-opacity="0.8" stroke-width="1" stroke-linejoin="round"/>
<path d="M762.5,214.4 765,218.8 770,220 768.8,227.5 770,235 773.8,243.8 775,251.2 770,257.5 765,261.9" fill="none" stroke="#fff" stroke-opacity="0.8" stroke-width="1" stroke-linejoin="round"/>
<path d="M753.8,215 758.8,218.8 762.5,218.1 765,218.8" fill="none" stroke="#fff" stroke-opacity="0.8" stroke-width="1" stroke-linejoin="round"/>
<path d="M831.2,321.2 838.8,321.2 839.4,318.8 846.2,316.9" fill="none" stroke="#fff" stroke-opacity="0.8" stroke-width="1" stroke-linejoin="round"/>
<path d="M852.5,322.5 855,325 862.5,325.6 866.2,328.8 868.8,333.1 875,334.4 880,330 885,328.1 890,326.9 897.5,327.5 905,328.1 907.5,323.8 910,321.2 913.8,317.5 916.2,313.8 920,311.2 925,305" fill="none" stroke="#fff" stroke-opacity="0.8" stroke-width="1" stroke-linejoin="round"/>
<path d="M838.8,321.2 838.1,332.5 843.8,329.4 848.8,331.2 853.8,336.2 860,340 865,343.8 868.8,346.2 872.5,345 875,341.2 872.5,337.5 875,334.4" fill="none" stroke="#fff" stroke-opacity="0.8" stroke-width="1" stroke-linejoin="round"/>
<path d="M833.8,345 841.2,344.4 847.5,346.9 852.5,351.2 855,355 862.5,350 868.8,346.2" fill="none" stroke="#fff" stroke-opacity="0.8" stroke-width="1" stroke-linejoin="round"/>
<path d="M875,341.2 880,340 887.5,340 891.2,337.5 900,333.1 906.2,328.8 905,328.1" fill="none" stroke="#fff" stroke-opacity="0.8" stroke-width="1" stroke-linejoin="round"/>
<path d="M875,341.2 875,345 877.5,347.5 882.5,344.4 887.5,347.5 890,346.2 890,340" fill="none" stroke="#fff" stroke-opacity="0.8" stroke-width="1" stroke-linejoin="round"/>
<path d="M855,355 853.8,360 853.1,366.2 855,370 862.5,371.2 870,368.8 875,365 880,360 882.5,353.8 882.5,348.8 887.5,347.5" fill="none" stroke="#fff" stroke-opacity="0.8" stroke-width="1" stroke-linejoin="round"/>
<path d="M890,346.2 892.5,351.2 897.5,353.8 900,356.2 896.2,357.5 891.2,360 890,366.2 887.5,372.5 886.2,375" fill="none" stroke="#fff" stroke-opacity="0.8" stroke-width="1" stroke-linejoin="round"/>
<path d="M900,356.2 905,353.8 908.8,356.2 910,361.2 912.5,366.2 917.5,371.2 922.5,375" fill="none" stroke="#fff" stroke-opacity="0.8" stroke-width="1" stroke-linejoin="round"/>
<path d="M853.1,366.2 851.2,375" fill="none" stroke="#fff" stroke-opacity="0.8" stroke-width="1" stroke-linejoin="round"/>
<path d="M924.7,304.7 931.3,313.1 942.5,318.8 950,321.6 961.3,325.3" fill="none" stroke="#fff" stroke-opacity="0.8" stroke-width="1" stroke-linejoin="round"/>
<path d="M989.4,322.5 995,316.9 1004.4,314.1 1011.9,312.2 1008.1,304.7 1006.3,300" fill="none" stroke="#fff" stroke-opacity="0.8" stroke-width="1" stroke-linejoin="round"/>
<path d="M874.1,392.2 877.8,385.6 880.6,380 888.1,374.4 890.9,366.9 889.1,359.4 897.5,355.6 900.3,350" fill="none" stroke="#fff" stroke-opacity="0.8" stroke-width="1" stroke-linejoin="round"/>
<path d="M900.3,350 902.2,357.5 906.9,365 916.3,370.6 927.5,378.1 935,379.1 942.5,376.3 948.1,375.3 951.9,378.1" fill="none" stroke="#fff" stroke-opacity="0.8" stroke-width="1" stroke-linejoin="round"/>
<path d="M906.9,371.6 916.3,376.3 927.5,380.9 927.5,378.1" fill="none" stroke="#fff" stroke-opacity="0.8" stroke-width="1" stroke-linejoin="round"/>
<path d="M927.5,380.9 929.4,386.6 928.4,395 932.2,396.5" fill="none" stroke="#fff" stroke-opacity="0.8" stroke-width="1" stroke-linejoin="round"/>
<path d="M929.4,386.6 936.9,385.6 938.8,393.1 937.8,396.9" fill="none" stroke="#fff" stroke-opacity="0.8" stroke-width="1" stroke-linejoin="round"/>
<path d="M951.9,378.1 953.8,384.7 948.1,389.4 944.4,395 939.7,401.6" fill="none" stroke="#fff" stroke-opacity="0.8" stroke-width="1" stroke-linejoin="round"/>
<path d="M953.8,384.7 957.5,395 962.2,396.9 957.5,402.5 952.8,406.3 951.9,413.8" fill="none" stroke="#fff" stroke-opacity="0.8" stroke-width="1" stroke-linejoin="round"/>
<path d="M962.2,396.9 967.8,395 972.5,394.1 980,398.8" fill="none" stroke="#fff" stroke-opacity="0.8" stroke-width="1" stroke-linejoin="round"/>
<path d="M957.5,402.5 962.2,406.3 966.9,404.4 972.5,410 974.4,419.4 980,422.2" fill="none" stroke="#fff" stroke-opacity="0.8" stroke-width="1" stroke-linejoin="round"/>
<path d="M966.9,404.4 965,398.8 962.2,396.9" fill="none" stroke="#fff" stroke-opacity="0.8" stroke-width="1" stroke-linejoin="round"/>
<path d="M967.8,395 970.6,400.6 976.3,406.3 981.9,415.6 980,422.2 972.5,423.1 966.9,422.2 965,425" fill="none" stroke="#fff" stroke-opacity="0.8" stroke-width="1" stroke-linejoin="round"/>
<path d="M966.9,422.2 965.9,428.8 972.5,433.4" fill="none" stroke="#fff" stroke-opacity="0.8" stroke-width="1" stroke-linejoin="round"/>
<path d="M956.6,436.3 960.3,438.1" fill="none" stroke="#fff" stroke-opacity="0.8" stroke-width="1" stroke-linejoin="round"/>
<path d="M991.3,456.9 996.9,458.8 1004.4,455 1008.1,453.1" fill="none" stroke="#fff" stroke-opacity="0.8" stroke-width="1" stroke-linejoin="round"/>
<path d="M1073.8,471.9 1073.8,485" fill="none" stroke="#fff" stroke-opacity="0.8" stroke-width="1" stroke-linejoin="round"/>
<path d="M860,368.8 867.5,370.6 874.1,378.1 871.3,385.6 867.5,387.5" fill="none" stroke="#fff" stroke-opacity="0.8" stroke-width="1" stroke-linejoin="round"/>
<path d="M853.1,372.5 856.2,377.5 858.8,382.5 855,386.2" fill="none" stroke="#fff" stroke-opacity="0.8" stroke-width="1" stroke-linejoin="round"/>
<path d="M868.8,387.5 877.5,383.8 878.8,378.8 883.8,372.5 888.8,366.2 891.2,360 890,356.2 897.5,353.8" fill="none" stroke="#fff" stroke-opacity="0.8" stroke-width="1" stroke-linejoin="round"/>
<path d="M805,344.4 806.2,341.2 803.8,337.5 801.2,335" fill="none" stroke="#fff" stroke-opacity="0.8" stroke-width="1" stroke-linejoin="round"/>
<path d="M558.1,426.9 555,430 558.1,433.9 564.4,434.7 566.7,442.5 564.4,445.6" fill="none" stroke="#fff" stroke-opacity="0.8" stroke-width="1" stroke-linejoin="round"/>
<path d="M535.5,449.5 542.5,448.8 548.8,451.9 547.2,456.6 540.9,461.2 535.5,464.4" fill="none" stroke="#fff" stroke-opacity="0.8" stroke-width="1" stroke-linejoin="round"/>
<path d="M564.4,445.6 565.2,453.4 561.2,458.1 556.6,462.8 553.4,467.5 554.2,476.9" fill="none" stroke="#fff" stroke-opacity="0.8" stroke-width="1" stroke-linejoin="round"/>
<path d="M548.8,451.9 556.6,448.8 564.4,445.6" fill="none" stroke="#fff" stroke-opacity="0.8" stroke-width="1" stroke-linejoin="round"/>
<path d="M606.6,437.8 605,445.6 609.7,450.3" fill="none" stroke="#fff" stroke-opacity="0.8" stroke-width="1" stroke-linejoin="round"/>
<path d="M614.4,447.2 612.8,453.4" fill="none" stroke="#fff" stroke-opacity="0.8" stroke-width="1" stroke-linejoin="round"/>
<path d="M625.3,455 624.5,459.7" fill="none" stroke="#fff" stroke-opacity="0.8" stroke-width="1" stroke-linejoin="round"/>
<path d="M556.6,423.8 553.4,426.9 555,420.9" fill="none" stroke="#fff" stroke-opacity="0.8" stroke-width="1" stroke-linejoin="round"/>
<path d="M568.1,511.6 564.4,523.8 562.5,536.9 560.6,550 558.8,565 556.9,578.1 555,591.3 554.1,600.6 558.8,607.2" fill="none" stroke="#fff" stroke-opacity="0.8" stroke-width="1" stroke-linejoin="round"/>
<path d="M585,511.6 592.5,518.1 594.4,524.7 601.9,522.8 605.6,525.6 600,531.3 596.3,536.9 595.3,544.4 597.2,547.2" fill="none" stroke="#fff" stroke-opacity="0.8" stroke-width="1" stroke-linejoin="round"/>
<path d="M601.9,511.6 604.7,518.1 601.9,522.8" fill="none" stroke="#fff" stroke-opacity="0.8" stroke-width="1" stroke-linejoin="round"/>
<path d="M600,531.3 609.4,537.8 614.1,534.1" fill="none" stroke="#fff" stroke-opacity="0.8" stroke-width="1" stroke-linejoin="round"/>
<path d="M378,232.5 378,271.5" fill="none" stroke="#fff" stroke-opacity="0.8" stroke-width="1" stroke-linejoin="round"/>
<path d="M508.9,395.6 507.3,401.1 505,405 508.9,403.4 513.6,403.4 514.4,403.4" fill="none" stroke="#fff" stroke-opacity="0.8" stroke-width="1" stroke-linejoin="round"/>
<path d="M513.6,403.4 511.2,408.1 507.3,410.5" fill="none" stroke="#fff" stroke-opacity="0.8" stroke-width="1" stroke-linejoin="round"/>
<path d="M515.9,408.1 515.2,412 511.2,413.6" fill="none" stroke="#fff" stroke-opacity="0.8" stroke-width="1" stroke-linejoin="round"/>
<path d="M522.2,408.9 519.8,413.6 517.5,416.7" fill="none" stroke="#fff" stroke-opacity="0.8" stroke-width="1" stroke-linejoin="round"/>
<path d="M526.9,417.5 523.8,420.6 521.4,422.2" fill="none" stroke="#fff" stroke-opacity="0.8" stroke-width="1" stroke-linejoin="round"/>
<path d="M536.2,426.9 534.7,430.8" fill="none" stroke="#fff" stroke-opacity="0.8" stroke-width="1" stroke-linejoin="round"/>
<path d="M802.5,326.9 808.75,329.4 813,327 813,322 816.9,315 813,307.5 814,300 820.6,296.25 830,295.3 839.4,294.4 850.6,293.4 853.4,286.9 861.9,284 873,280.3 878.75,280.3 884.4,285 895.6,284 901.25,290.6 905,296.25 912.5,298 920,301.9 924.7,304.7 931.25,301 938.75,298 948,300 951.9,302.8 965,304 976.25,303.75 983.75,301.9 991.25,304.7 1000.6,302.8 1006.25,300 1013.75,292.5 1017.5,288.75 1023.75,287.8 1031.25,290.6 1036.9,298 1042.5,305.6 1048,310.3 1055.6,309.4 1053.75,315 1049,320.6 1046.25,326.25 1043.4,329 1040.6,332.8 1036.9,335.6 1034,340.3 1032.2,344 1029.4,342.2 1028.4,338.4 1023.75,341.25 1021,344 1018,352 1016.6,361.25" fill="none" stroke="#fff" stroke-opacity="0.8" stroke-width="1" stroke-linejoin="round"/>
<path d="M868.75,387.5 860,386.9 855,386.25 847.5,385.6 840,385 830,382.5 822.5,375 817.5,371.25 816.25,367.5 813.75,361.25 811.25,355 807.5,348.75 805,344.4 801.25,346.25 791.25,347.5 785,348.75 782.5,348.75 775,349.4 770,348 763.75,348.75 758.75,345 757.5,340 758.75,336.25 766.25,333 775,331.9 782.5,333 790,334.4 797.5,333 798.75,331.25 797.5,327.5 802.5,326.9" fill="none" stroke="#fff" stroke-opacity="0.8" stroke-width="1" stroke-linejoin="round"/>
<path d="M423.4,312.2 496.9,311.2 503.1,313.3" fill="none" stroke="#fff" stroke-opacity="0.8" stroke-width="1" stroke-linejoin="round"/>
<path d="M489.4,379.7 487.5,376.6 484.4,372.7 481.2,370 477.3,368.8 475,371.1 471.1,368.8 468.8,364.8 462.5,363.3 457.8,364.1 450,362.5 442.2,361.2 439.8,361.7" fill="none" stroke="#fff" stroke-opacity="0.8" stroke-width="1" stroke-linejoin="round"/>
<path d="M545.6,325.2 553.4,322.8 561.2,317.3 565.2,316.6 566.7,321.2 564.4,324.4" fill="none" stroke="#fff" stroke-opacity="0.8" stroke-width="1" stroke-linejoin="round"/>
</svg>
<div class="abs leg" style="top:320px;background:#BF9000"></div><div class="abs legt" style="top:315.5px">中位</div>
<div class="abs leg" style="top:368px;background:#FFC000;height:29px"></div><div class="abs legt" style="top:363px">高い</div>
<div class="abs leg" style="top:415px;background:#F9DC6A;height:29px"></div><div class="abs legt" style="top:410.5px">低い</div>
<div class="abs src">ソース<b style="margin-left:7px">: SDKI Analytics</b><span style="margin-left:5px;font-size:19px">分析</span></div>
<div class="abs" style="left:948.3px;top:311.9px;width:48px;height:17px;background:radial-gradient(ellipse at center,rgba(45,32,0,.38) 0%,rgba(45,32,0,.26) 35%,rgba(45,32,0,0) 70%)"></div><div class="abs" style="left:570.5px;top:461.3px;width:48px;height:17px;background:radial-gradient(ellipse at center,rgba(45,32,0,.38) 0%,rgba(45,32,0,.26) 35%,rgba(45,32,0,0) 70%)"></div>
<div class="abs lab serif" style="left:435px;top:226px;width:134px;height:34.5px;border-radius:17.5px;box-shadow:2px 8px 6px -4px rgba(0,0,0,.28);font-size:14px">北米</div>
<div class="abs lab sans" style="left:677px;top:262px;width:98px;height:34.5px;border-radius:17.5px;box-shadow:2px 8px 6px -4px rgba(0,0,0,.15)">ヨーロッパ</div>
<div class="abs lab serif" style="left:905px;top:326px;width:116px;height:35.5px;border-radius:18px;box-shadow:3px 9px 7px -3px rgba(0,0,0,.3)">アジア太平洋<br>地域</div>
<div class="abs lab sans" style="left:738px;top:425px;width:120px;height:56px;border-radius:28px;box-shadow:7px 13px 7px -5px rgba(0,0,0,.33);line-height:18px">中東<br>とアフリカ</div>
<div class="abs lab sans" style="left:514px;top:477px;width:146px;height:35px;border-radius:17.5px;box-shadow:3px 8px 6px -4px rgba(0,0,0,.3)">ラテンアメリカ</div>
<svg class="abs" style="left:0;top:0" width="1280" height="720" viewBox="0 0 1280 720">
<path d="M503.0,222.6 L488.60,208.11 A20.3,20.3 0 1 1 517.40,208.11Z" fill="#27336F" stroke="#27336F" stroke-width="0.8" stroke-linejoin="round"/><circle cx="503" cy="193.8" r="10.3" fill="#fff"/><path d="M725.5,246.8 L711.25,232.76 A20.3,20.3 0 1 1 739.75,232.76Z" fill="#27336F" stroke="#27336F" stroke-width="0.8" stroke-linejoin="round"/><circle cx="725.5" cy="218.3" r="10.3" fill="#fff"/><path d="M964.3,312.9 L950.21,299.31 A20.3,20.3 0 1 1 978.39,299.31Z" fill="#27336F" stroke="#27336F" stroke-width="0.8" stroke-linejoin="round"/><circle cx="964.3" cy="284.7" r="10.3" fill="#fff"/><path d="M797.0,420.0 L783.02,406.72 A20.3,20.3 0 1 1 810.98,406.72Z" fill="#27336F" stroke="#27336F" stroke-width="0.8" stroke-linejoin="round"/><circle cx="797" cy="392.0" r="10.3" fill="#fff"/><path d="M586.5,462.3 L572.52,449.02 A20.3,20.3 0 1 1 600.48,449.02Z" fill="#27336F" stroke="#27336F" stroke-width="0.8" stroke-linejoin="round"/><circle cx="586.5" cy="434.3" r="10.3" fill="#fff"/>
</svg>
<div class="abs footer"></div>
<div class="abs f1">www.sdki.jp | <span style="letter-spacing:.55px">+81-505-050-9337</span>| info@sdki.jp</div>
<div class="abs f2">SDKI<span class="fj"><i style="margin-left:-6.5px">（</i>渋谷データ<b style="margin-left:8px">カウント</b><i style="margin-left:-5px">）</i></span></div>
</body></html>
